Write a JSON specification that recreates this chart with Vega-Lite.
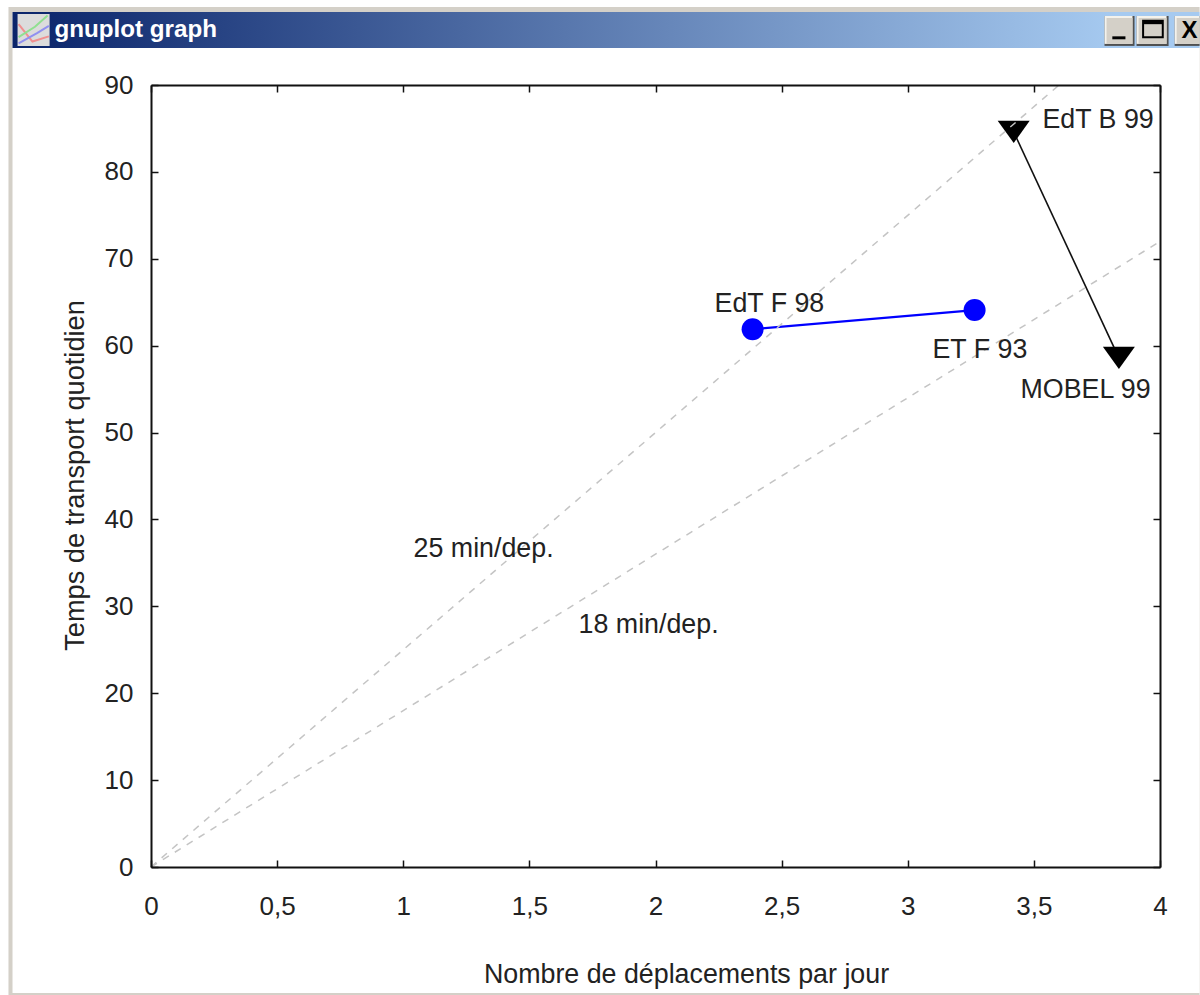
{"$schema":"https://vega.github.io/schema/vega-lite/v6.json","width":1009,"height":782,"autosize":"none","padding":{"left":151,"top":85,"right":40,"bottom":128},"background":"white","config":{"view":{"stroke":null},"text":{"font":"Liberation Sans"},"axis":{"labelFont":"Liberation Sans","titleFont":"Liberation Sans"}},
"datasets":{
"frame":[{"x":-0.565,"x2":4.157,"y":98.98,"y2":-14.73}],
"inner":[{"x":-0.549,"x2":4.157,"y":98.4,"y2":-14.5}],
"bar":[{"x":-0.549,"x2":4.157,"y":98.4,"y2":94.26}],
"buttonsDark":[{"x":3.78,"x2":3.899,"y":97.94,"y2":94.5},{"x":3.907,"x2":4.034,"y":97.94,"y2":94.5},{"x":4.058,"x2":4.157,"y":97.94,"y2":94.5}],
"buttonsLight":[{"x":3.78,"x2":3.891,"y":97.94,"y2":94.73},{"x":3.907,"x2":4.026,"y":97.94,"y2":94.73},{"x":4.058,"x2":4.157,"y":97.94,"y2":94.73}],
"buttonsFace":[{"x":3.788,"x2":3.891,"y":97.71,"y2":94.73},{"x":3.915,"x2":4.026,"y":97.71,"y2":94.73},{"x":4.066,"x2":4.157,"y":97.71,"y2":94.73}],
"minimize":[{"x":3.811,"x2":3.863,"y":95.6,"y2":95.26}],
"maximize":[{"x":3.933,"x2":4.011,"y":97.4,"y2":95.5}],
"maximizeTop":[{"x":3.933,"x2":4.011,"y":97.4,"y2":97.0}],
"glyphs":[{"x":4.117,"y":96.2,"t":"X"}],
"icon":[{"x":-0.529,"x2":-0.402,"y":98.17,"y2":94.49}],
"iconlines":[{"s":"r","o":1,"x":-0.525,"y":97},{"s":"r","o":2,"x":-0.47,"y":95},{"s":"r","o":3,"x":-0.405,"y":95.6},{"s":"g","o":1,"x":-0.525,"y":95.5},{"s":"g","o":2,"x":-0.46,"y":96.7},{"s":"g","o":3,"x":-0.41,"y":98},{"s":"b","o":1,"x":-0.525,"y":94.8},{"s":"b","o":2,"x":-0.45,"y":96},{"s":"b","o":3,"x":-0.405,"y":96.8}],
"title":[{"x":-0.383,"y":96.35,"t":"gnuplot graph"}],
"refs":[{"s":"25","x":0,"y":0},{"s":"25","x":3.6,"y":90},{"s":"18","x":0,"y":0},{"s":"18","x":4,"y":72}],
"france":[{"x":2.385,"y":61.9,"o":1},{"x":3.265,"y":64.1,"o":2}],
"belgium":[{"x":3.42,"y":84.6,"o":1},{"x":3.837,"y":58.6,"o":2}],
"labels":[{"x":2.234,"y":64.8,"t":"EdT F 98"},{"x":3.098,"y":59.5,"t":"ET F 93"},{"x":3.447,"y":54.9,"t":"MOBEL 99"},{"x":3.534,"y":86.0,"t":"EdT B 99"},{"x":1.041,"y":36.6,"t":"25 min/dep."},{"x":1.695,"y":27.9,"t":"18 min/dep."}]
},
"resolve":{"axis":{"x":"independent","y":"independent"}},
"layer":[
{"data":{"name":"frame"},"mark":{"type":"rect","fill":"#d4d0c8"},"encoding":{"x":{"field":"x","type":"quantitative","scale":{"domain":[0,4],"nice":false,"zero":false},"axis":null},"x2":{"field":"x2"},"y":{"field":"y","type":"quantitative","scale":{"domain":[0,90],"nice":false,"zero":false},"axis":null},"y2":{"field":"y2"}}},
{"data":{"name":"inner"},"mark":{"type":"rect","fill":"white"},"encoding":{"x":{"field":"x","type":"quantitative","axis":null},"x2":{"field":"x2"},"y":{"field":"y","type":"quantitative","axis":null},"y2":{"field":"y2"}}},
{"data":{"name":"bar"},"mark":{"type":"rect","fill":{"gradient":"linear","x1":0,"x2":1,"y1":0,"y2":0,"stops":[{"offset":0,"color":"#0a246a"},{"offset":0.93,"color":"#a6caf0"},{"offset":1,"color":"#a6caf0"}]}},"encoding":{"x":{"field":"x","type":"quantitative","axis":null},"x2":{"field":"x2"},"y":{"field":"y","type":"quantitative","axis":null},"y2":{"field":"y2"}}},
{"data":{"name":"icon"},"mark":{"type":"rect","fill":"#dcdcdc"},"encoding":{"x":{"field":"x","type":"quantitative","axis":null},"x2":{"field":"x2"},"y":{"field":"y","type":"quantitative","axis":null},"y2":{"field":"y2"}}},
{"data":{"name":"iconlines"},"mark":{"type":"line","strokeWidth":2,"clip":false},"encoding":{"x":{"field":"x","type":"quantitative","axis":null},"y":{"field":"y","type":"quantitative","axis":null},"order":{"field":"o"},"color":{"field":"s","type":"nominal","legend":null,"scale":{"domain":["r","g","b"],"range":["#f09090","#90e090","#9090f0"]}}}},
{"data":{"name":"title"},"mark":{"type":"text","align":"left","baseline":"middle","font":"Liberation Sans","fontWeight":"bold","fontSize":24.2,"fill":"white"},"encoding":{"x":{"field":"x","type":"quantitative","axis":null},"y":{"field":"y","type":"quantitative","axis":null},"text":{"field":"t"}}},
{"data":{"name":"buttonsDark"},"mark":{"type":"rect","fill":"#505050"},"encoding":{"x":{"field":"x","type":"quantitative","axis":null},"x2":{"field":"x2"},"y":{"field":"y","type":"quantitative","axis":null},"y2":{"field":"y2"}}},
{"data":{"name":"buttonsLight"},"mark":{"type":"rect","fill":"#f4f2ec"},"encoding":{"x":{"field":"x","type":"quantitative","axis":null},"x2":{"field":"x2"},"y":{"field":"y","type":"quantitative","axis":null},"y2":{"field":"y2"}}},
{"data":{"name":"buttonsFace"},"mark":{"type":"rect","fill":"#d4d0c8"},"encoding":{"x":{"field":"x","type":"quantitative","axis":null},"x2":{"field":"x2"},"y":{"field":"y","type":"quantitative","axis":null},"y2":{"field":"y2"}}},
{"data":{"name":"minimize"},"mark":{"type":"rect","fill":"black"},"encoding":{"x":{"field":"x","type":"quantitative","axis":null},"x2":{"field":"x2"},"y":{"field":"y","type":"quantitative","axis":null},"y2":{"field":"y2"}}},
{"data":{"name":"maximize"},"mark":{"type":"rect","fill":"#d4d0c8","stroke":"black","strokeWidth":2},"encoding":{"x":{"field":"x","type":"quantitative","axis":null},"x2":{"field":"x2"},"y":{"field":"y","type":"quantitative","axis":null},"y2":{"field":"y2"}}},
{"data":{"name":"maximizeTop"},"mark":{"type":"rect","fill":"black"},"encoding":{"x":{"field":"x","type":"quantitative","axis":null},"x2":{"field":"x2"},"y":{"field":"y","type":"quantitative","axis":null},"y2":{"field":"y2"}}},
{"data":{"name":"glyphs"},"mark":{"type":"text","align":"center","baseline":"middle","font":"Liberation Sans","fontWeight":"bold","fontSize":24,"fill":"black"},"encoding":{"x":{"field":"x","type":"quantitative","axis":null},"y":{"field":"y","type":"quantitative","axis":null},"text":{"field":"t"}}},
{"data":{"name":"france"},"mark":{"type":"line","stroke":"#0000ff","strokeWidth":2.2},"encoding":{"x":{"field":"x","type":"quantitative","axis":{"orient":"top","values":[0,0.5,1,1.5,2,2.5,3,3.5,4],"grid":false,"title":null,"labels":false,"domainColor":"#111","domainWidth":2,"tickColor":"#111","tickWidth":1.5,"tickSize":-7,"zindex":2}},"y":{"field":"y","type":"quantitative","axis":{"orient":"right","values":[0,10,20,30,40,50,60,70,80,90],"grid":false,"title":null,"labels":false,"domainColor":"#111","domainWidth":2,"tickColor":"#111","tickWidth":1.5,"tickSize":-7,"zindex":2}},"order":{"field":"o"}}},
{"data":{"name":"belgium"},"mark":{"type":"line","stroke":"#111","strokeWidth":1.6},"encoding":{"x":{"field":"x","type":"quantitative","axis":null},"y":{"field":"y","type":"quantitative","axis":null},"order":{"field":"o"}}},
{"data":{"name":"belgium"},"mark":{"type":"point","shape":"M-1,-0.7L1,-0.7L0,0.7Z","filled":true,"opacity":1,"fill":"black","size":1024},"encoding":{"x":{"field":"x","type":"quantitative","axis":null},"y":{"field":"y","type":"quantitative","axis":null}}},
{"data":{"name":"refs"},"mark":{"type":"line","stroke":"#c4c4c4","strokeWidth":1.5,"strokeDash":[7,7]},"encoding":{"x":{"field":"x","type":"quantitative","title":"Nombre de déplacements par jour","axis":{"orient":"bottom","values":[0,0.5,1,1.5,2,2.5,3,3.5,4],"grid":false,"labelExpr":"replace(format(datum.value,'~g'),'.',',')","domainColor":"#111","domainWidth":2,"tickColor":"#111","tickWidth":1.5,"tickSize":-7,"labelFontSize":26,"labelColor":"#222","labelPadding":33,"labelFlush":false,"labelOverlap":false,"titleFontSize":26.8,"titleFontWeight":"normal","titleColor":"#222","titleX":535,"titleY":107,"titleBaseline":"middle","zindex":2}},"y":{"field":"y","type":"quantitative","title":"Temps de transport quotidien","axis":{"orient":"left","values":[0,10,20,30,40,50,60,70,80,90],"grid":false,"domainColor":"#111","domainWidth":2,"tickColor":"#111","tickWidth":1.5,"tickSize":-7,"labelFontSize":26,"labelColor":"#222","labelPadding":25,"labelFlush":false,"labelOverlap":false,"titleFontSize":27.2,"titleFontWeight":"normal","titleColor":"#222","titleX":-76,"titleY":390,"titleBaseline":"middle","zindex":2}},"detail":{"field":"s"}}},
{"data":{"name":"france"},"mark":{"type":"point","shape":"circle","filled":true,"opacity":1,"fill":"#0000ff","size":484},"encoding":{"x":{"field":"x","type":"quantitative","axis":null},"y":{"field":"y","type":"quantitative","axis":null}}},
{"data":{"name":"labels"},"mark":{"type":"text","align":"left","baseline":"middle","fontSize":26.8,"fill":"#222"},"encoding":{"x":{"field":"x","type":"quantitative","axis":null},"y":{"field":"y","type":"quantitative","axis":null},"text":{"field":"t"}}}
]}
